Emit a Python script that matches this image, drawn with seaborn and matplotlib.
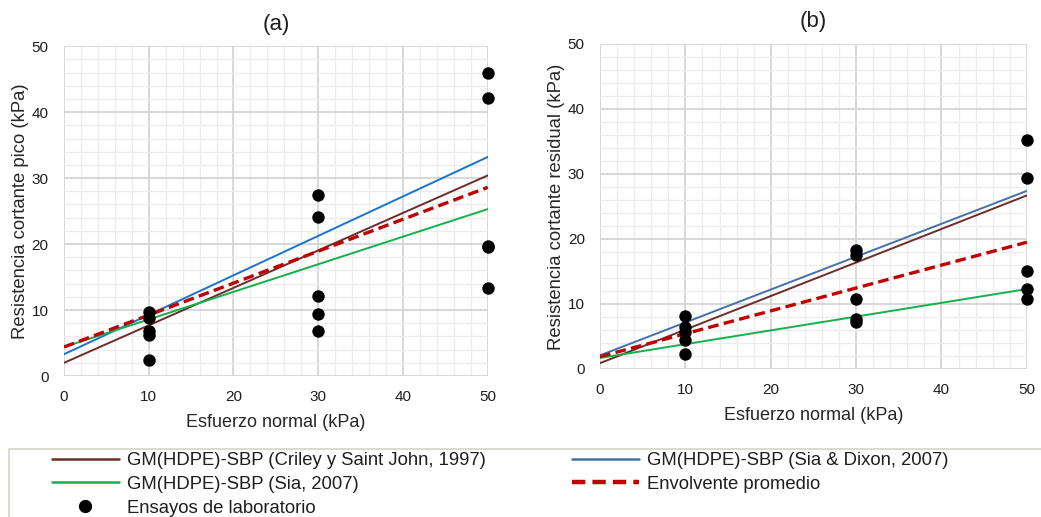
import matplotlib
matplotlib.use("Agg")
import matplotlib.pyplot as plt
import seaborn as sns
import numpy as np
import pandas as pd
from matplotlib.lines import Line2D
from matplotlib.patches import Rectangle

sns.set_theme(style="white")
plt.rcParams['font.family'] = ['Liberation Sans', 'DejaVu Sans']
plt.rcParams['text.color'] = '#1E1E1E'

# lab test points (normal stress, shear strength)
x_tests = [10, 10, 10, 10, 10, 30, 30, 30, 30, 30, 50, 50, 50, 50, 50]
peak_tests = [9.7, 8.8, 6.8, 6.2, 2.4, 27.4, 24.1, 12.2, 9.4, 6.8, 46.0, 42.1, 19.7, 19.5, 13.3]
x_tests_b = [10, 10, 10, 10, 10, 30, 30, 30, 30, 30, 50, 50, 50, 50, 50]
resid_tests = [8.2, 6.5, 5.7, 4.4, 2.3, 18.3, 17.6, 10.8, 7.7, 7.2, 35.3, 29.4, 15.0, 12.3, 10.8]

# envelopes, values at sigma = 0 and sigma = 50 kPa
x_env = [0, 50]
peak_criley = [2.0, 30.4]
peak_dixon = [3.3, 33.2]
peak_sia = [4.4, 25.3]
peak_prom = [4.4, 28.6]
resid_criley = [0.9, 26.7]
resid_dixon = [2.1, 27.4]
resid_sia = [1.7, 12.3]
resid_prom = [1.9, 19.5]

lbl_criley = "GM(HDPE)-SBP (Criley y Saint John, 1997)"
lbl_dixon = "GM(HDPE)-SBP (Sia & Dixon, 2007)"
lbl_sia = "GM(HDPE)-SBP (Sia, 2007)"
lbl_prom = "Envolvente promedio"
lbl_tests = "Ensayos de laboratorio"

c_criley = '#6E2C2A'
c_dixon_a = '#1874CD'
c_dixon_b = '#4670A8'
c_sia = '#14B04A'
c_prom = '#C00000'

fig = plt.figure(figsize=(10.41, 5.17), dpi=100)
ax1 = fig.add_axes([0.0615, 0.2727, 0.407, 0.638])
ax2 = fig.add_axes([0.5764, 0.2863, 0.410, 0.6286])


def draw(ax, xs, ys, lines, title, ylabel):
    for vals, col, ls, lw in lines:
        d = pd.DataFrame({'x': x_env, 'y': vals})
        sns.lineplot(data=d, x='x', y='y', ax=ax, color=col, linestyle=ls,
                     linewidth=lw, zorder=3)
    sns.scatterplot(x=xs, y=ys, ax=ax, color='black', s=80, edgecolor='black',
                    linewidth=0, zorder=4, clip_on=False)
    ax.set_xlim(0, 50)
    ax.set_ylim(0, 50)
    ax.set_xticks(np.arange(0, 51, 10))
    ax.set_yticks(np.arange(0, 51, 10))
    ax.set_xticks(np.arange(0, 51, 2), minor=True)
    ax.set_yticks(np.arange(0, 51, 2), minor=True)
    ax.grid(True, which='major', color='#D4D4D4', linewidth=1.3)
    ax.grid(True, which='minor', color='#ECECEC', linewidth=1.0)
    ax.set_axisbelow(True)
    for s in ax.spines.values():
        s.set_visible(False)
    ax.tick_params(which='both', length=0, labelsize=11, colors='#1E1E1E')
    ax.tick_params(axis='x', pad=10)
    ax.tick_params(axis='y', pad=11)
    ax.set_title(title, fontsize=16, pad=12)
    ax.set_xlabel("Esfuerzo normal (kPa)", fontsize=13, labelpad=7)
    ax.set_ylabel(ylabel, fontsize=13.3, labelpad=2)


draw(ax1, x_tests, peak_tests,
     [(peak_criley, c_criley, '-', 1.4), (peak_dixon, c_dixon_a, '-', 1.4),
      (peak_sia, c_sia, '-', 1.4), (peak_prom, c_prom, (0, (3.2, 1.6)), 2.4)],
     "(a)", "Resistencia cortante pico (kPa)")
draw(ax2, x_tests_b, resid_tests,
     [(resid_criley, c_criley, '-', 1.4), (resid_dixon, c_dixon_b, '-', 1.4),
      (resid_sia, c_sia, '-', 1.4), (resid_prom, c_prom, (0, (3.2, 1.6)), 2.4)],
     "(b)", "Resistencia cortante residual (kPa)")

# legend frame runs past the right and bottom edges
fig.patches.append(Rectangle((9 / 1041, -0.05), 1.1, 0.05 + 1 - 449 / 517,
                             transform=fig.transFigure, fill=False,
                             edgecolor='#DADAD0', linewidth=1.4))

# shared legend under both panels, two columns placed separately
h_criley = Line2D([], [], color=c_criley, lw=1.8)
h_dixon = Line2D([], [], color=c_dixon_b, lw=1.8)
h_sia = Line2D([], [], color=c_sia, lw=1.8)
h_prom = Line2D([], [], color=c_prom, lw=3.2, ls=(0, (3, 1.6)))
h_tests = Line2D([], [], color='black', marker='o', ls='none', markersize=8.5)
leg_kw = dict(loc='upper left', frameon=False, borderaxespad=0, borderpad=0,
              handlelength=3.6, handletextpad=0.45, labelspacing=0.37,
              prop={'size': 13.3})
leg1 = fig.legend([h_criley, h_sia, h_tests], [lbl_criley, lbl_sia, lbl_tests],
                  bbox_to_anchor=(52 / 1041, 1 - 452 / 517), **leg_kw)
leg2 = fig.legend([h_dixon, h_prom], [lbl_dixon, lbl_prom],
                  bbox_to_anchor=(572 / 1041, 1 - 452 / 517), **leg_kw)

fig.savefig("out.png", dpi=100)
